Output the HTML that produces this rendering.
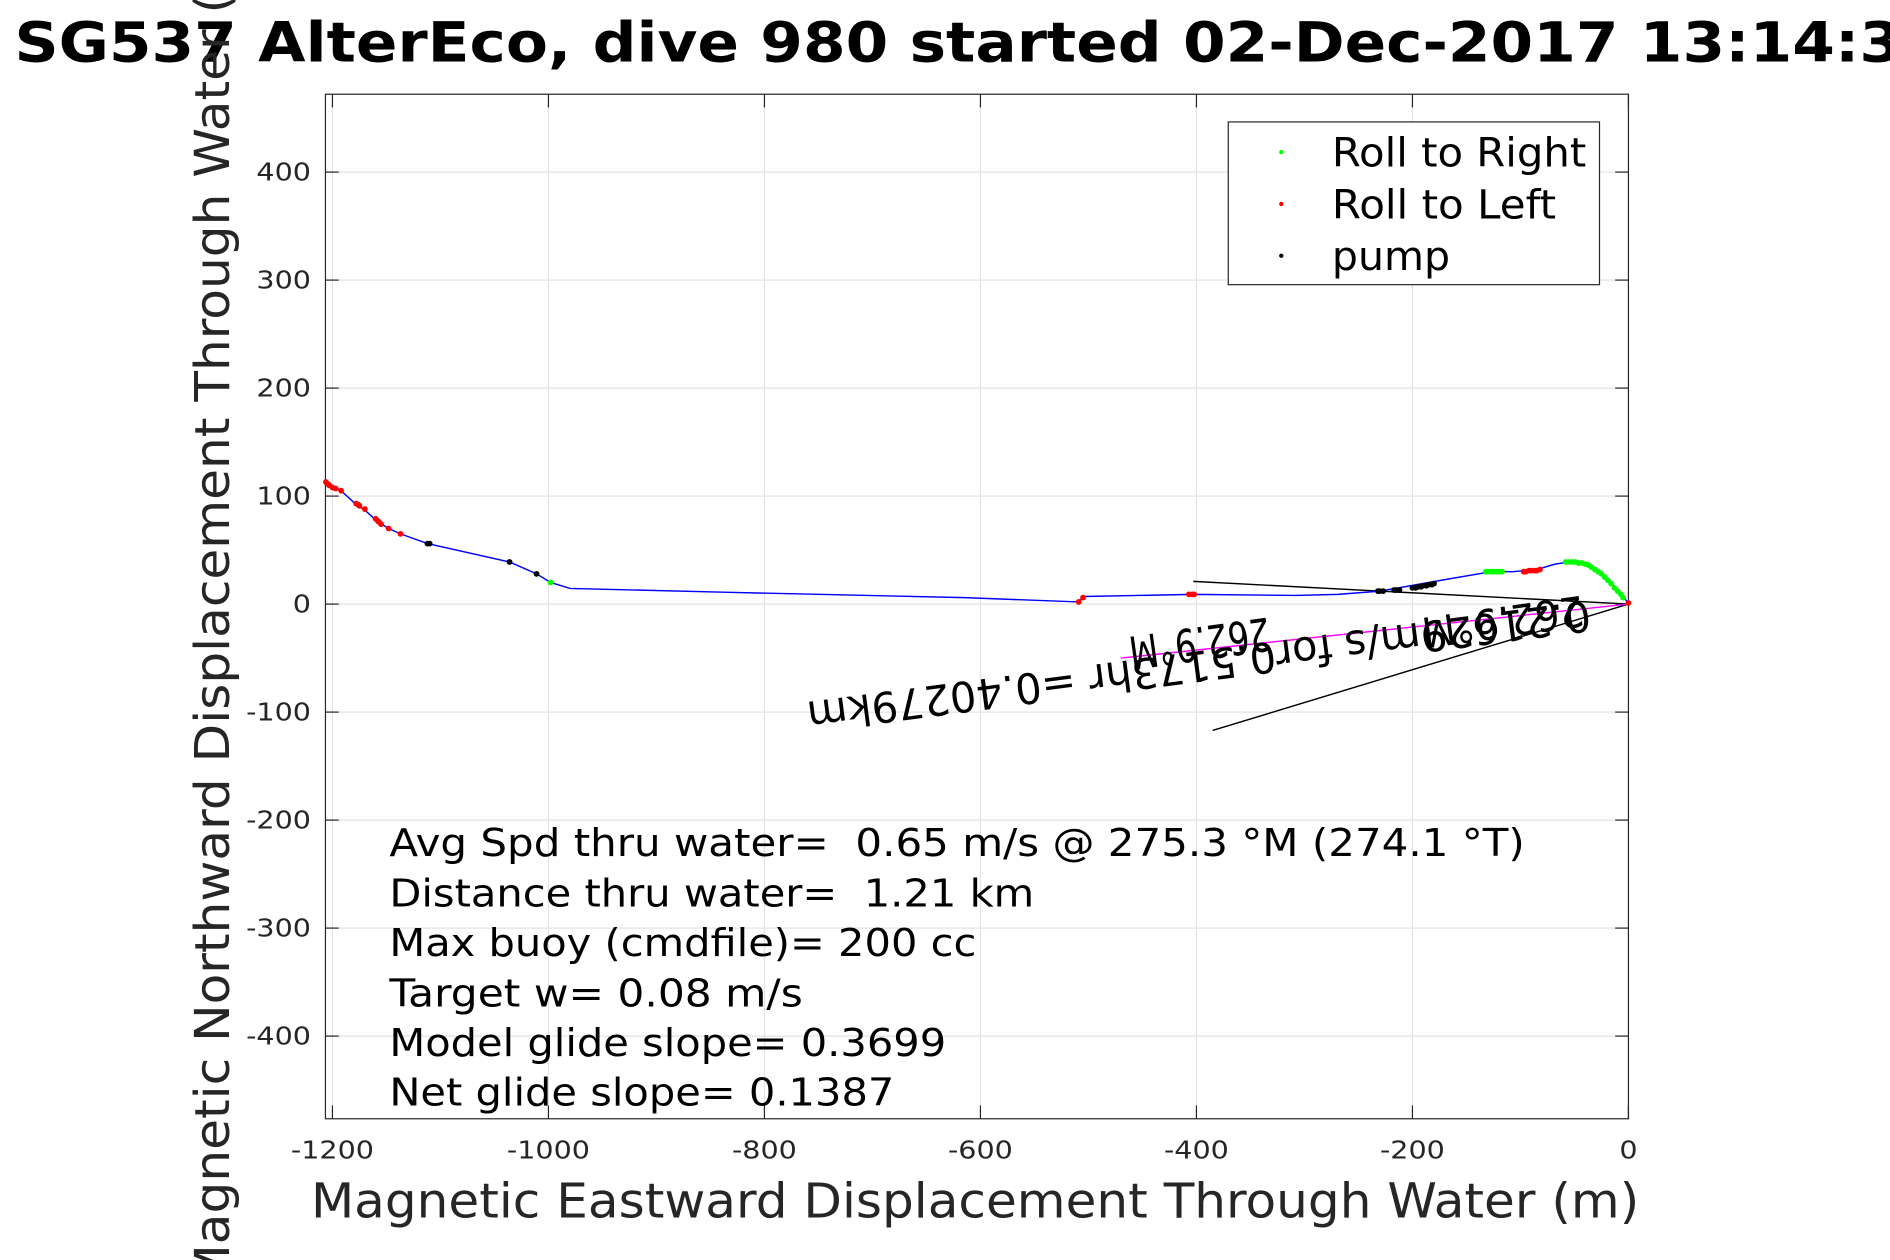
<!DOCTYPE html>
<html><head><meta charset="utf-8"><style>
html,body{margin:0;padding:0;background:#fff;overflow:hidden}
svg{display:block}
text{font-family:"DejaVu Sans","Liberation Sans",sans-serif;white-space:pre}
</style></head><body>
<svg id="chart" width="1890" height="1260" viewBox="0 0 1568 1045" xmlns="http://www.w3.org/2000/svg">
<rect x="0" y="0" width="1568" height="1045" fill="#fff"/>
<g id="grid"></g>
<g id="axes"></g>
<g id="marks"></g>
<text x="12" y="51" font-size="46" font-weight="bold" fill="#000" textLength="1566" lengthAdjust="spacingAndGlyphs">SG537 AlterEco, dive 980 started 02-Dec-2017 13:14:3</text>
<text transform="translate(190,503) rotate(-90)" text-anchor="middle" font-size="40" fill="#262626" textLength="1130" lengthAdjust="spacingAndGlyphs">Magnetic Northward Displacement Through Water (m)</text>
<text x="258" y="1010" font-size="40" fill="#262626" textLength="1102" lengthAdjust="spacingAndGlyphs">Magnetic Eastward Displacement Through Water (m)</text>
<g>
<rect x="1019" y="101" width="308" height="135" fill="#fff" stroke="#262626" stroke-width="1"/>
<circle cx="1063" cy="126" r="1.8" fill="#00ff00"/><text x="1105" y="138" font-size="33" textLength="211" lengthAdjust="spacingAndGlyphs">Roll to Right</text>
<circle cx="1063" cy="169" r="1.8" fill="#ff0000"/><text x="1105" y="181" font-size="33" textLength="186" lengthAdjust="spacingAndGlyphs">Roll to Left</text>
<circle cx="1063" cy="212" r="1.8" fill="#000"/><text x="1105" y="224" font-size="33" textLength="98" lengthAdjust="spacingAndGlyphs">pump</text>
</g>
<g font-size="32" fill="#000">
<text x="323" y="710" textLength="942" lengthAdjust="spacingAndGlyphs">Avg Spd thru water=  0.65 m/s @ 275.3 °M (274.1 °T)</text>
<text x="323" y="752" textLength="535" lengthAdjust="spacingAndGlyphs">Distance thru water=  1.21 km</text>
<text x="323" y="793" textLength="487" lengthAdjust="spacingAndGlyphs">Max buoy (cmdfile)= 200 cc</text>
<text x="323" y="835" textLength="343" lengthAdjust="spacingAndGlyphs">Target w= 0.08 m/s</text>
<text x="323" y="876" textLength="462" lengthAdjust="spacingAndGlyphs">Model glide slope= 0.3699</text>
<text x="323" y="917" textLength="419" lengthAdjust="spacingAndGlyphs">Net glide slope= 0.1387</text>
</g>
<g font-size="35" fill="#000">
<text transform="translate(1318,498) rotate(172.6)" textLength="655" lengthAdjust="spacingAndGlyphs">0.21629m/s for0.5173hr =0.40279km</text>
<text transform="translate(1312,494) rotate(172)" textLength="135" lengthAdjust="spacingAndGlyphs">262.9°M</text>
<text transform="translate(1052,512) rotate(172)" font-size="38" textLength="118" lengthAdjust="spacingAndGlyphs">262.9°M</text>
</g>
</svg>
<script>
const xTicks=[-1200,-1000,-800,-600,-400,-200,0];
const yTicks=[-400,-300,-200,-100,0,100,200,300,400];
const trackX=[-1206,-1192,-1179,-1170,-1159,-1148,-1137,-1112,-1036,-1011,-998,-980,-838,-615,-509,-504,-403,-308,-269,-230,-196,-168,-127,-107,-85,-68,-55,-35,-18,-6,0];
const trackY=[113,105,93,87,77,70,65,56,39,28,20,14.5,11,6,2,7,9,8,9,12,18,23,30,30,32,37,39,35,22,8,1];
const redX=[-1206,-1204,-1203,-1200,-1197,-1192,-1178,-1176,-1175,-1170,-1160,-1158,-1157,-1155,-1148,-1137,-509,-505,-407,-404,-402,-97,-95,-92,-90,-87,-85,-82,0];
const redY=[113,111,110,108,107,105,93,92,91,88,79,77,76,74,70,65,2,6,9,9,9,30,30,31,31,31,31,32,1];
const greenX=[-998,-132,-130,-127,-125,-122,-120,-117,-58,-55,-52,-49,-46,-43,-40,-37,-34,-31,-28,-25,-22,-19,-16,-13,-10,-7,-5];
const greenY=[20,30,30,30,30,30,30,30,39,39,39,39,38,38,37,36,34,32,30,28,25,22,19,15,12,9,6];
const pumpX=[-1112,-1110,-1036,-1011,-232,-230,-227,-217,-215,-212,-200,-197,-195,-192,-190,-187,-185,-182,-180];
const pumpY=[56,56,39,28,12,12,12,13,13,13,15,15,16,16,17,17,18,18,19];
const currentLineA=[-403,21];
const currentLineB=[-385,-117];
const netLine=[-470,-50];
const X0=1351,Y0=501,S=0.896,L=270,R=1351,T=78,B=928;
const sx=v=>X0+v*S, sy=v=>Y0-v*S;
const NS="http://www.w3.org/2000/svg";
function mk(tag,attrs,parent){const e=document.createElementNS(NS,tag);for(const k in attrs)e.setAttribute(k,attrs[k]);parent.appendChild(e);return e;}
const grid=document.getElementById('grid'),axes=document.getElementById('axes'),marks=document.getElementById('marks');
function stretch(t,f){const w=t.getComputedTextLength();t.setAttribute('textLength',w*f);t.setAttribute('lengthAdjust','spacingAndGlyphs');}
xTicks.forEach(t=>{const x=sx(t);
 const g=mk('line',{x1:x,x2:x,y1:T,y2:B,stroke:'#e3e3e3','stroke-width':1},grid);
 
 
 mk('line',{x1:x,x2:x,y1:B,y2:B-11,stroke:'#262626','stroke-width':1},axes);
 mk('line',{x1:x,x2:x,y1:T,y2:T+11,stroke:'#262626','stroke-width':1},axes);
 const tl=mk('text',{x:x,y:961,'text-anchor':'middle','font-size':21,fill:'#262626'},axes);tl.textContent=t;
 
 
 stretch(tl,1.13);
});
yTicks.forEach(t=>{const y=sy(t);
 const g=mk('line',{x1:L,x2:R,y1:y,y2:y,stroke:'#e3e3e3','stroke-width':1},grid);
 
 
 mk('line',{x1:L,x2:L+11,y1:y,y2:y,stroke:'#262626','stroke-width':1},axes);
 mk('line',{x1:R,x2:R-11,y1:y,y2:y,stroke:'#262626','stroke-width':1},axes);
 const tl=mk('text',{x:258,y:y+7,'text-anchor':'end','font-size':21,fill:'#262626'},axes);tl.textContent=t;
 
 
 stretch(tl,1.13);
});
const box=mk('rect',{x:L,y:T,width:R-L,height:B-T,fill:'none',stroke:'#262626','stroke-width':1},axes);


function seg(p,name,color){const l=mk('line',{x1:sx(0),y1:sy(0),x2:sx(p[0]),y2:sy(p[1]),stroke:color,'stroke-width':1.2},marks);
 
 }
seg(currentLineA,'current-line-a','#000');
seg(currentLineB,'current-line-b','#000');
seg(netLine,'net-displacement-line','#ff00ff');
const path=mk('polyline',{points:trackX.map((x,i)=>sx(x)+','+sy(trackY[i])).join(' '),fill:'none',stroke:'#0000ff','stroke-width':1.2},marks);


function dots(xs,ys,color,name){xs.forEach((x,i)=>{const c=mk('circle',{cx:sx(x),cy:sy(ys[i]),r:2.4,fill:color},marks);
 
 });}
dots(greenX,greenY,'#00ff00','roll-right-point');
dots(redX,redY,'#ff0000','roll-left-point');
dots(pumpX,pumpY,'#000','pump-point');
</script>
</body></html>
